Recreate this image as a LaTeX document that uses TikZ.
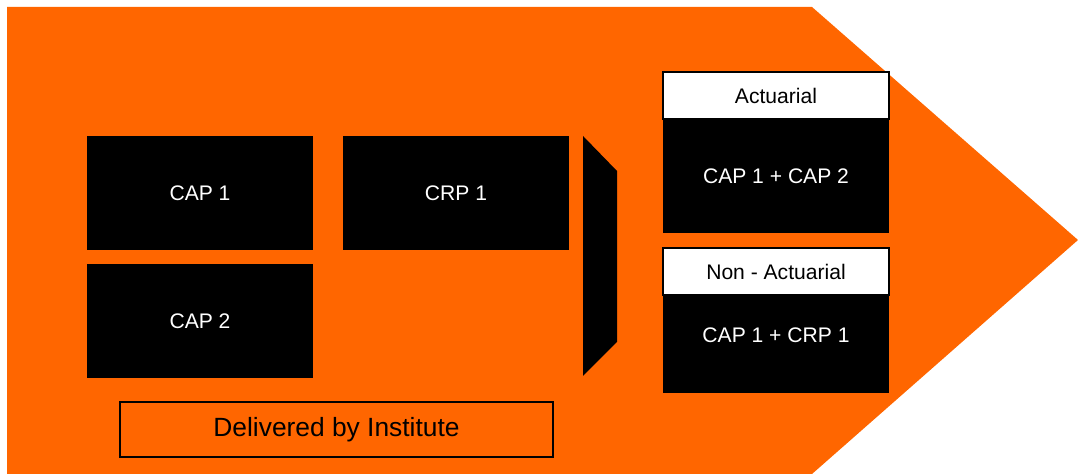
\documentclass[tikz,border=0pt]{standalone}
\usepackage{fontspec}
\setmainfont{Liberation Sans}
\definecolor{arroworange}{RGB}{255,102,0}

\begin{document}
\begin{tikzpicture}[
        blk/.style={fill=black, text=white, inner sep=0pt, outer sep=0pt, minimum width=4.52cm, font=\fontsize{12}{14}\selectfont},
        hdr/.style={fill=white, draw=black, line width=0.6pt, inner sep=0pt, outer sep=0pt, minimum width=4.52cm, minimum height=0.94cm, font=\fontsize{12}{14}\selectfont}
    ]
            \useasboundingbox (0,0) rectangle (21.56,9.48);
            \fill[arroworange] (0.14,0) -- (0.14,9.34) -- (16.24,9.34) -- (21.56,4.68) -- (16.24,0) -- cycle;
            \node[blk, minimum height=2.28cm] (cap1) at (4.0,5.62) {CAP 1};
            \node[blk, minimum height=2.28cm] (cap2) at (4.0,3.06) {CAP 2};
            \node[blk, minimum height=2.28cm] (crp1) at (9.12,5.62) {CRP 1};
            \fill[black] (11.66,6.76) -- (12.34,6.06) -- (12.34,2.64) -- (11.66,1.96) -- cycle;
            \node[hdr] (act) at (15.52,7.57) {Actuarial};
            \node[blk, minimum height=2.28cm, anchor=north] (actbody) at (act.south) {CAP 1 + CAP 2};
            \node[hdr] (nonact) at (15.52,4.05) {Non - Actuarial};
            \node[blk, minimum height=1.96cm, anchor=north] (nonactbody) at (nonact.south) {};
            \node[text=white, inner sep=0pt, font=\fontsize{12}{14}\selectfont] (nonacttext) at (15.52,2.78) {CAP 1 + CRP 1};
            \node[draw=black, line width=1.2pt, fill=arroworange, inner sep=0pt, minimum width=8.66cm, minimum height=1.1cm, font=\fontsize{15}{18}\selectfont] (inst) at (6.73,0.89) {Delivered by Institute};
        \end{tikzpicture}
\end{document}
